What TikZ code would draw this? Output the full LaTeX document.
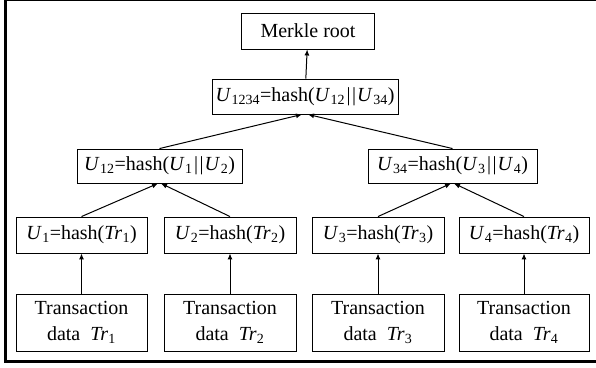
\documentclass[tikz,border=0pt]{standalone}
\usepackage{fontspec}
\setmainfont{Liberation Serif}
\usetikzlibrary{arrows.meta}
\newcommand{\myU}[1]{\textit{U}\kern0.5pt\textsubscript{#1}}
\newcommand{\myTr}[1]{\textit{Tr}\kern0.3pt\textsubscript{#1}}
\newcommand{\cc}{\kern1.5pt|\kern1.5pt|\kern1pt}
\tikzset{
  hbox/.style={draw, line width=0.9pt, inner sep=0pt, minimum height=35pt, align=center,
    font=\fontsize{20}{26.5}\selectfont},
  txbox/.style={hbox, minimum height=57pt},
  arr/.style={line width=1pt, -{Latex[length=6pt,width=5pt]}}
}
\begin{document}
\begin{tikzpicture}[x=1pt,y=-1pt]
\useasboundingbox (0,0) rectangle (596,367);
\fill[white] (0,0) rectangle (596,367);
% outer frame
\draw[line width=0.8pt] (4,0.5) -- (596,0.5);
\draw[line width=2.8pt] (5.5,0) -- (5.5,362.5);
\draw[line width=3pt] (4,361) -- (596,361);
% nodes
\node[hbox, minimum width=133pt, minimum height=36pt] (root) at (308,31) {Merkle root};
\node[hbox, minimum width=186pt] (u1234) at (305,96.5) {\myU{1234}=hash(\myU{12}\cc\myU{34})};
\node[hbox, minimum width=165pt, minimum height=34pt] (u12) at (159.5,166) {\myU{12}=hash(\myU{1}\cc\myU{2})};
\node[hbox, minimum width=169pt, minimum height=34pt] (u34) at (452.5,166) {\myU{34}=hash(\myU{3}\cc\myU{4})};
\node[hbox, minimum width=131pt, minimum height=36pt] (u1) at (81.5,235) {\myU{1}=hash(\myTr{1})};
\node[hbox, minimum width=132pt, minimum height=36pt] (u2) at (230,235) {\myU{2}=hash(\myTr{2})};
\node[hbox, minimum width=132pt, minimum height=36pt] (u3) at (378,235) {\myU{3}=hash(\myTr{3})};
\node[hbox, minimum width=130pt, minimum height=36pt] (u4) at (524,235) {\myU{4}=hash(\myTr{4})};
\node[txbox, minimum width=131pt] (t1) at (81.5,322.5) {Transaction\\data\ \ \myTr{1}};
\node[txbox, minimum width=132pt] (t2) at (230,322.5) {Transaction\\data\ \ \myTr{2}};
\node[txbox, minimum width=132pt] (t3) at (378,322.5) {Transaction\\data\ \ \myTr{3}};
\node[txbox, minimum width=130pt] (t4) at (524,322.5) {Transaction\\data\ \ \myTr{4}};
% connectors
\draw[arr] (t1) -- (u1);
\draw[arr] (t2) -- (u2);
\draw[arr] (t3) -- (u3);
\draw[arr] (t4) -- (u4);
\draw[arr] (u1.north) -- ([xshift=-1.5pt]u12.south);
\draw[arr] (u2.north) -- ([xshift=1.5pt]u12.south);
\draw[arr] (u3.north) -- ([xshift=-1.5pt]u34.south);
\draw[arr] (u4.north) -- ([xshift=1.5pt]u34.south);
\draw[arr] (u12.north) -- ([xshift=-3pt]u1234.south);
\draw[arr] (u34.north) -- ([xshift=3pt]u1234.south);
\draw[arr] (u1234) -- (root);
\end{tikzpicture}
\end{document}
